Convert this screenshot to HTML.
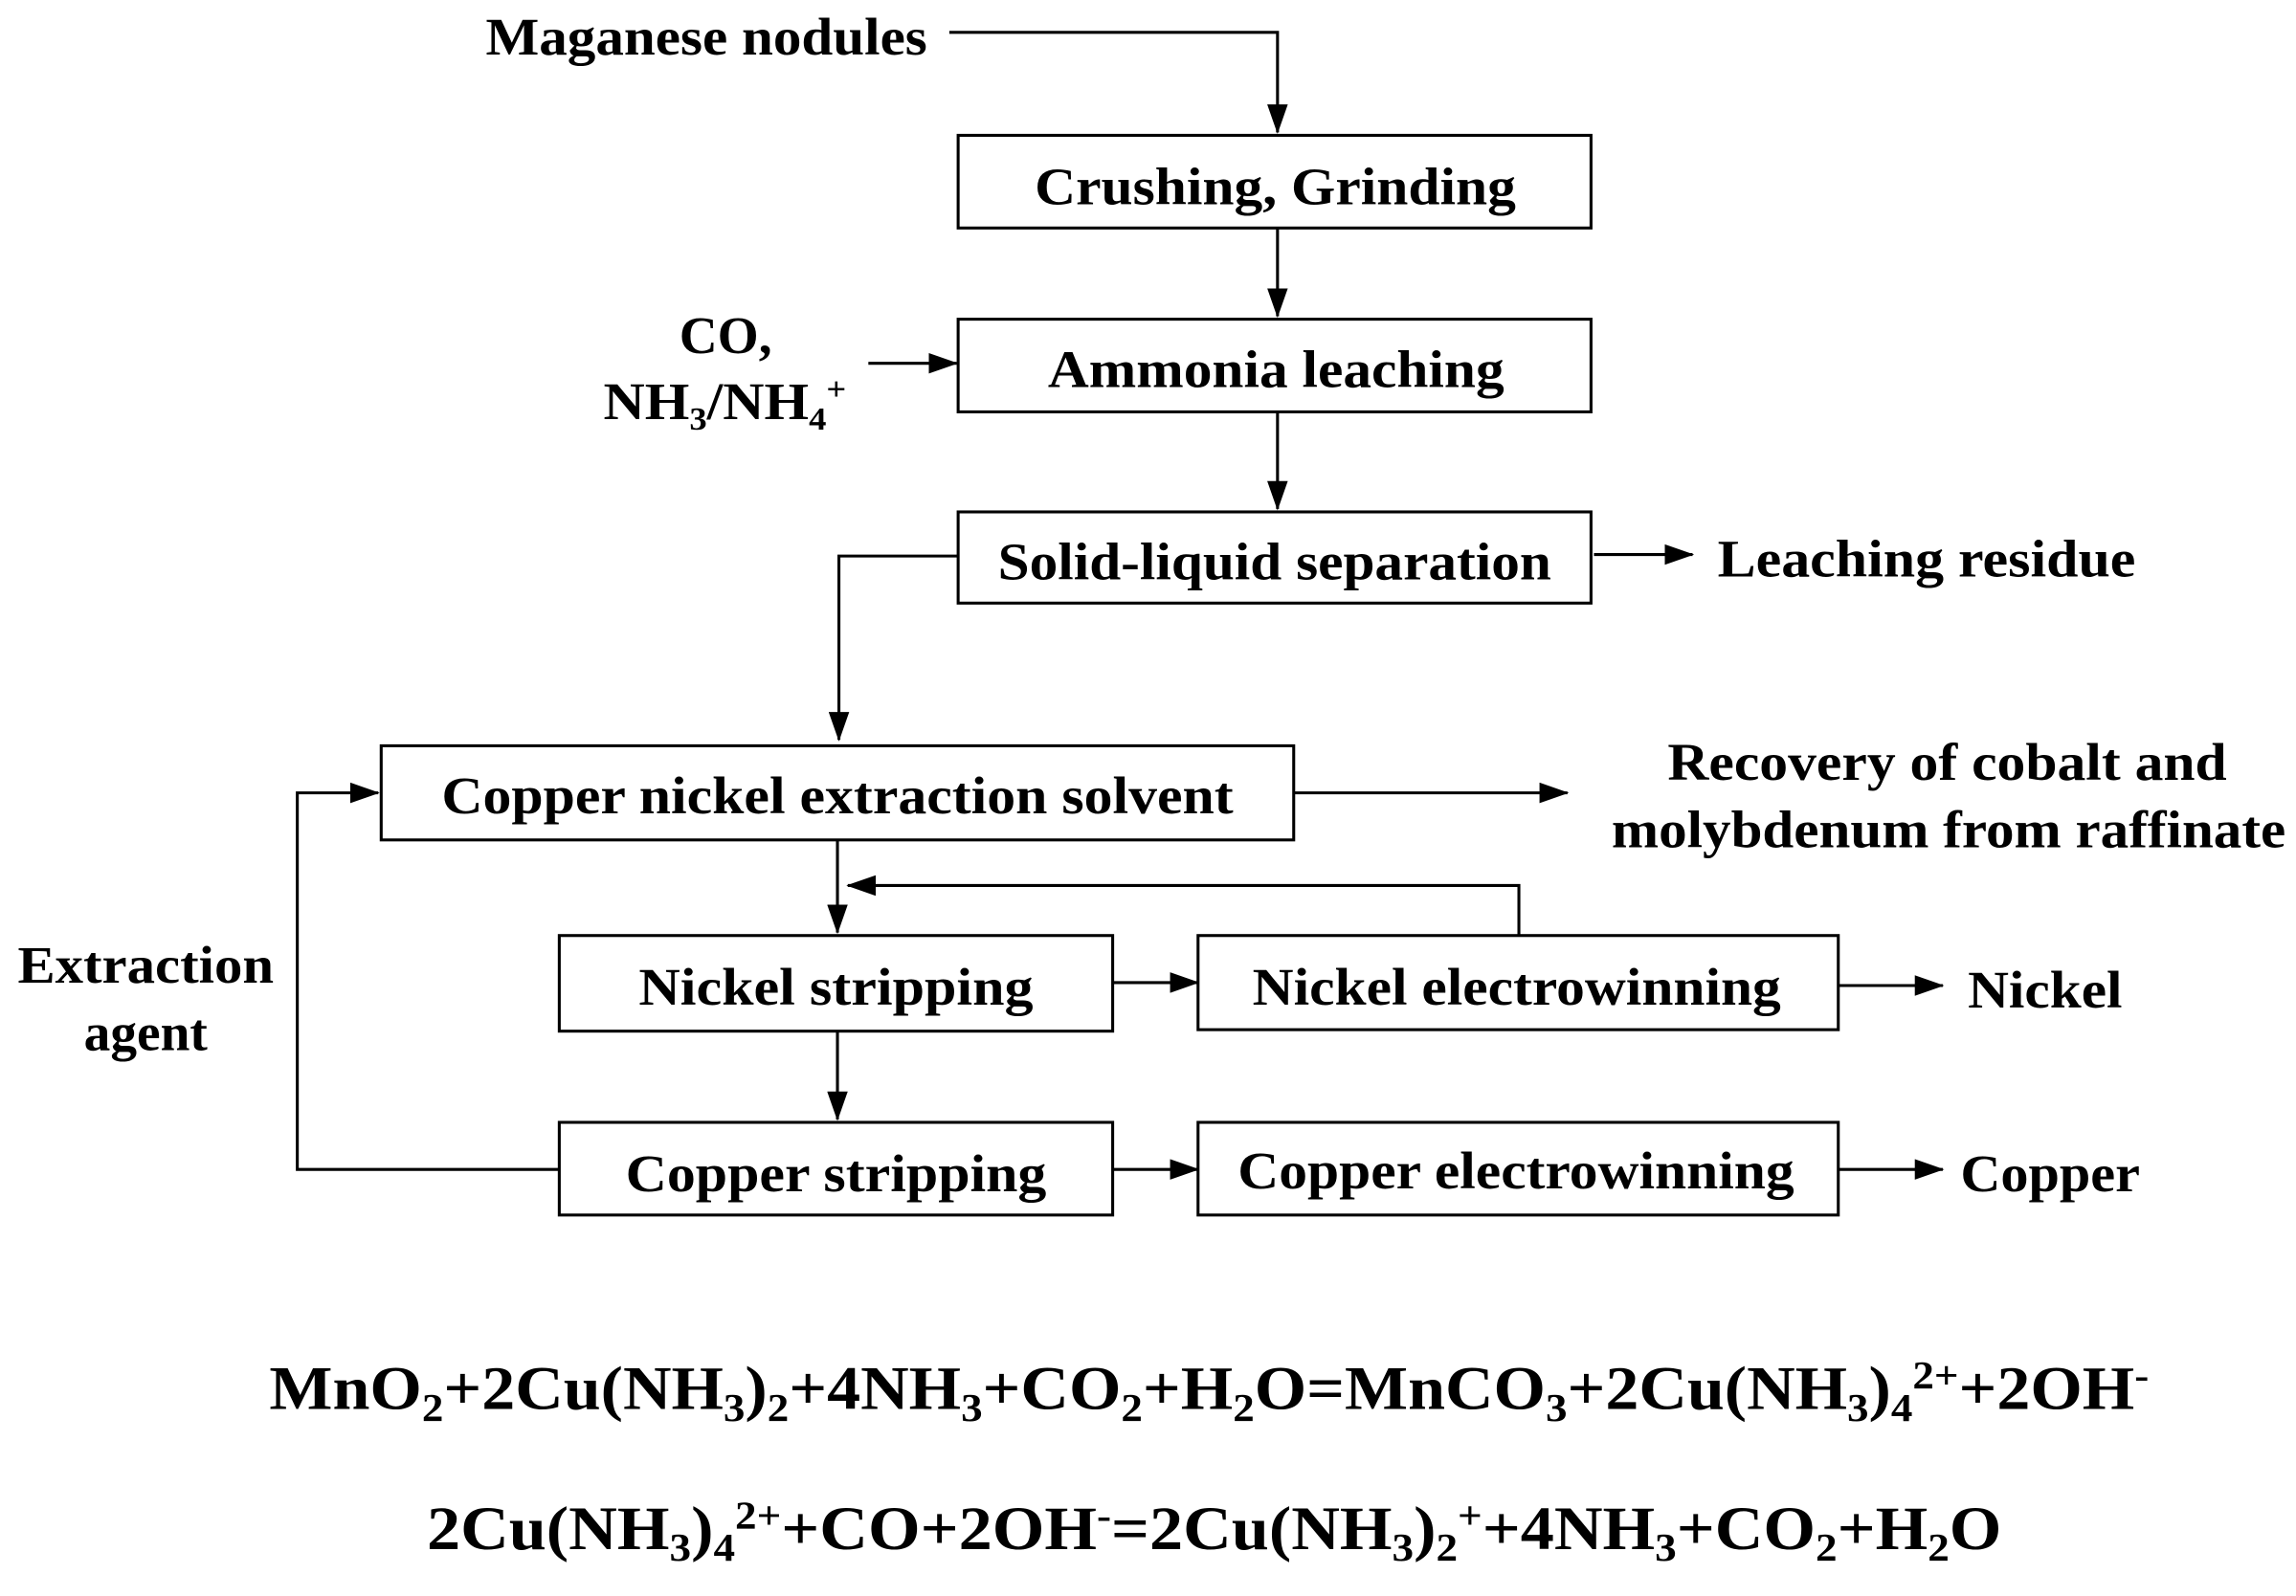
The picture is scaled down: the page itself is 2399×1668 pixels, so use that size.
<!DOCTYPE html>
<html><head><meta charset="utf-8"><style>html,body{margin:0;padding:0;background:#fff}svg{display:block}</style></head><body>
<svg width="2399" height="1668" viewBox="0 0 1560 1085" preserveAspectRatio="none" xmlns="http://www.w3.org/2000/svg" font-family="Liberation Serif, serif" font-weight="bold" font-size="36">
<defs>
<marker id="b" markerWidth="20" markerHeight="14" refX="19" refY="7" orient="auto" markerUnits="userSpaceOnUse"><path d="M0,0 L20,7 L0,14 Z" fill="#000"/></marker></defs>
<g fill="none" stroke="#000" stroke-width="2">
<rect x="651" y="92" width="430" height="63"/>
<rect x="651" y="217" width="430" height="63"/>
<rect x="651" y="348" width="430" height="62"/>
<rect x="259" y="507" width="620" height="64"/>
<rect x="380" y="636" width="376" height="65"/>
<rect x="814" y="636" width="435" height="64"/>
<rect x="380" y="763" width="376" height="63"/>
<rect x="814" y="763" width="435" height="63"/>
<path d="M645,22 H868 V90" marker-end="url(#b)"/>
<path d="M868,155 V215" marker-end="url(#b)"/>
<path d="M590,247 H650" marker-end="url(#b)"/>
<path d="M868,280 V346" marker-end="url(#b)"/>
<path d="M1083,377 H1150" marker-end="url(#b)"/>
<path d="M651,378 H570 V503" marker-end="url(#b)"/>
<path d="M879,539 H1065" marker-end="url(#b)"/>
<path d="M569,571 V634" marker-end="url(#b)"/>
<path d="M1032,636 V602 H576" marker-end="url(#b)"/>
<path d="M756,668 H814" marker-end="url(#b)"/>
<path d="M1249,670 H1320" marker-end="url(#b)"/>
<path d="M569,701 V761" marker-end="url(#b)"/>
<path d="M756,795 H814" marker-end="url(#b)"/>
<path d="M1249,795 H1320" marker-end="url(#b)"/>
<path d="M380,795 H202 V539 H257" marker-end="url(#b)"/>
</g>
<g fill="#000">
<text x="330" y="37" textLength="300" lengthAdjust="spacingAndGlyphs">Maganese nodules</text>
<text x="703" y="139" textLength="327" lengthAdjust="spacingAndGlyphs">Crushing, Grinding</text>
<text x="493" y="240" text-anchor="middle">CO,</text>
<text x="410" y="285" textLength="165" lengthAdjust="spacingAndGlyphs">NH<tspan font-size="22" dy="7">3</tspan><tspan dy="-7">/NH</tspan><tspan font-size="22" dy="7">4</tspan><tspan font-size="22" dy="-20">+</tspan></text>
<text x="712" y="263" textLength="310" lengthAdjust="spacingAndGlyphs">Ammonia leaching</text>
<text x="678" y="394" textLength="376" lengthAdjust="spacingAndGlyphs">Solid-liquid separation</text>
<text x="1167" y="392" textLength="284" lengthAdjust="spacingAndGlyphs">Leaching residue</text>
<text x="300" y="553" textLength="538" lengthAdjust="spacingAndGlyphs">Copper nickel extraction solvent</text>
<text x="1133" y="530" textLength="380" lengthAdjust="spacingAndGlyphs">Recovery of cobalt and</text>
<text x="1095" y="576" textLength="458" lengthAdjust="spacingAndGlyphs">molybdenum from raffinate</text>
<text x="434" y="683" textLength="268" lengthAdjust="spacingAndGlyphs">Nickel stripping</text>
<text x="851" y="683" textLength="359" lengthAdjust="spacingAndGlyphs">Nickel electrowinning</text>
<text x="1337" y="685" textLength="105" lengthAdjust="spacingAndGlyphs">Nickel</text>
<text x="425" y="810" textLength="286" lengthAdjust="spacingAndGlyphs">Copper stripping</text>
<text x="841" y="808" textLength="378" lengthAdjust="spacingAndGlyphs">Copper electrowinning</text>
<text x="1332" y="810" textLength="122" lengthAdjust="spacingAndGlyphs">Copper</text>
<text x="12" y="668" textLength="174" lengthAdjust="spacingAndGlyphs">Extraction</text>
<text x="99" y="714" text-anchor="middle">agent</text>
<text x="183" y="958" font-size="42" textLength="1277" lengthAdjust="spacingAndGlyphs">MnO<tspan font-size="27" dy="8">2</tspan><tspan dy="-8">+2Cu(NH</tspan><tspan font-size="27" dy="8">3</tspan><tspan dy="-8">)</tspan><tspan font-size="27" dy="8">2</tspan><tspan dy="-8">+4NH</tspan><tspan font-size="27" dy="8">3</tspan><tspan dy="-8">+CO</tspan><tspan font-size="27" dy="8">2</tspan><tspan dy="-8">+H</tspan><tspan font-size="27" dy="8">2</tspan><tspan dy="-8">O=MnCO</tspan><tspan font-size="27" dy="8">3</tspan><tspan dy="-8">+2Cu(NH</tspan><tspan font-size="27" dy="8">3</tspan><tspan dy="-8">)</tspan><tspan font-size="27" dy="8">4</tspan><tspan font-size="27" dy="-22">2+</tspan><tspan dy="14">+2OH</tspan><tspan font-size="27" dy="-14">-</tspan></text>
<text x="290" y="1053" font-size="42" textLength="1070" lengthAdjust="spacingAndGlyphs">2Cu(NH<tspan font-size="27" dy="8">3</tspan><tspan dy="-8">)</tspan><tspan font-size="27" dy="8">4</tspan><tspan font-size="27" dy="-22">2+</tspan><tspan dy="14">+CO+2OH</tspan><tspan font-size="27" dy="-14">-</tspan><tspan dy="14">=2Cu(NH</tspan><tspan font-size="27" dy="8">3</tspan><tspan dy="-8">)</tspan><tspan font-size="27" dy="8">2</tspan><tspan font-size="27" dy="-22">+</tspan><tspan dy="14">+4NH</tspan><tspan font-size="27" dy="8">3</tspan><tspan dy="-8">+CO</tspan><tspan font-size="27" dy="8">2</tspan><tspan dy="-8">+H</tspan><tspan font-size="27" dy="8">2</tspan><tspan dy="-8">O</tspan></text>
</g>
</svg>
</body></html>
